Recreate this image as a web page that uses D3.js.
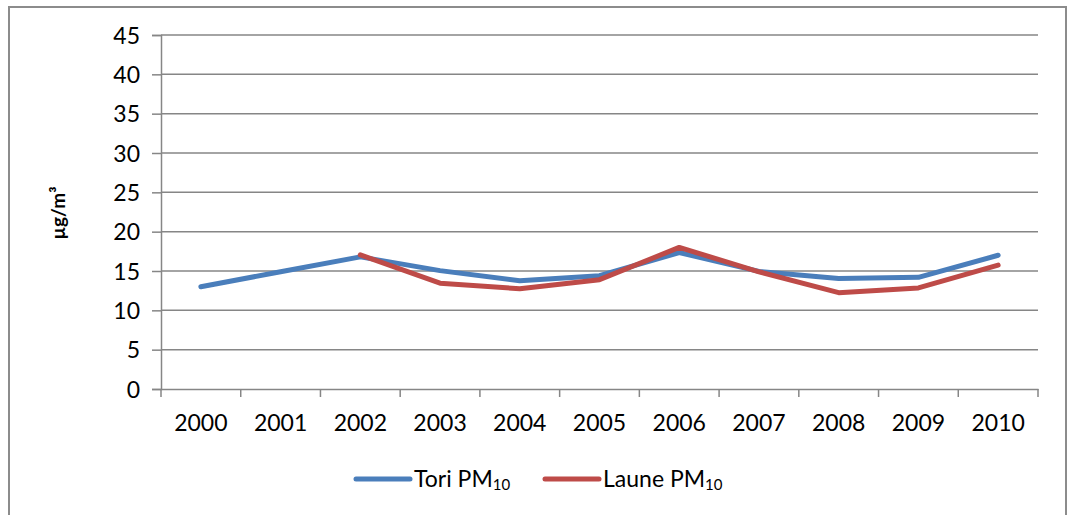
<!DOCTYPE html>
<html>
<head>
<meta charset="utf-8">
<script src="https://cdn.jsdelivr.net/npm/d3@7"></script>
<style>
  body { margin: 0; background: #fff; }
  svg text { font-family: Lato, "Open Sans", sans-serif; fill: #000; }
</style>
</head>
<body>
<div id="chart"></div>
<script>
// data
var years = ["2000","2001","2002","2003","2004","2005","2006","2007","2008","2009","2010"];
var tori  = [13.0, 14.9, 16.8, 15.05, 13.75, 14.4, 17.35, 14.95, 14.05, 14.2, 17.0];
var laune = [null, null, 17.05, 13.45, 12.75, 13.9, 18.0, 14.9, 12.25, 12.85, 15.75];
var yTicks = [0, 5, 10, 15, 20, 25, 30, 35, 40, 45];

var W = 1069, H = 515;
var margin = {top: 35, right: 31, bottom: 126, left: 161},
    width = 1038 - margin.left,
    height = 389 - margin.top;

var svg = d3.select("#chart").append("svg")
    .attr("width", W).attr("height", H);

// outer chart border
svg.append("rect")
  .attr("x", 9).attr("y", 7).attr("width", 1057).attr("height", 520)
  .attr("fill", "none").attr("stroke", "#8c8c8c").attr("stroke-width", 2);

var g = svg.append("g")
  .attr("transform", "translate(" + margin.left + "," + margin.top + ")");

var x = d3.scaleBand().domain(years).range([0, width]);
var y = d3.scaleLinear().domain([0, 45]).range([height, 0]);

// gridlines + y axis
var yAxis = g.append("g")
  .call(d3.axisLeft(y).tickValues(yTicks).tickSize(9).tickPadding(12))
yAxis.select(".domain").attr("stroke", "#868686").attr("stroke-width", 1.5);
yAxis.selectAll(".tick line").attr("stroke", "#868686").attr("stroke-width", 1.5);
yAxis.selectAll(".tick text").style("font-size", "23px").attr("dy", "0.36em");

g.append("g").selectAll("line")
  .data(yTicks.filter(function(d){ return d > 0; }))
  .enter().append("line")
    .attr("x1", 0).attr("x2", width)
    .attr("y1", function(d){ return y(d); })
    .attr("y2", function(d){ return y(d); })
    .attr("stroke", "#868686").attr("stroke-width", 1.5);

// x axis with ticks at category boundaries
var xAxis = g.append("g")
  .attr("transform", "translate(0," + height + ")")
  .call(d3.axisBottom(x).tickSize(0).tickPadding(26));
xAxis.select(".domain").attr("stroke", "#868686").attr("stroke-width", 1.5);
xAxis.selectAll(".tick text").style("font-size", "23px");
xAxis.selectAll(".bound")
  .data(d3.range(years.length + 1))
  .enter().append("line")
    .attr("x1", function(i){ return i * x.step(); })
    .attr("x2", function(i){ return i * x.step(); })
    .attr("y1", 0).attr("y2", 8)
    .attr("stroke", "#868686").attr("stroke-width", 1.5);

// lines
var line = d3.line()
  .defined(function(d){ return d.v != null; })
  .x(function(d){ return x(d.year) + x.bandwidth() / 2; })
  .y(function(d){ return y(d.v); });

var series = [
  {name: "Tori", values: tori, color: "#4a7ebb"},
  {name: "Laune", values: laune, color: "#be4b48"}
];

series.forEach(function(s) {
  var pts = years.map(function(yr, i){ return {year: yr, v: s.values[i]}; });
  g.append("path")
    .datum(pts)
    .attr("fill", "none")
    .attr("stroke", s.color)
    .attr("stroke-width", 5)
    .attr("stroke-linejoin", "round")
    .attr("stroke-linecap", "round")
    .attr("d", line);
});

// y axis title
svg.append("text")
  .attr("transform", "translate(65,213) rotate(-90)")
  .attr("text-anchor", "middle")
  .style("font-size", "19px")
  .style("font-weight", "bold")
  .text("µg/m³");

// legend
var legendX = [356, 545];
series.forEach(function(s, i) {
  var lg = svg.append("g").attr("transform", "translate(" + legendX[i] + ",479)");
  lg.append("line")
    .attr("x1", 0).attr("x2", 54)
    .attr("stroke", s.color).attr("stroke-width", 5)
    .attr("stroke-linecap", "round");
  var t = lg.append("text")
    .attr("x", 58).attr("y", 8)
    .style("font-size", "23px");
  t.append("tspan").text(s.name + " PM");
  t.append("tspan").attr("dy", 3).style("font-size", "15px").text("10");
});
</script>
</body>
</html>
